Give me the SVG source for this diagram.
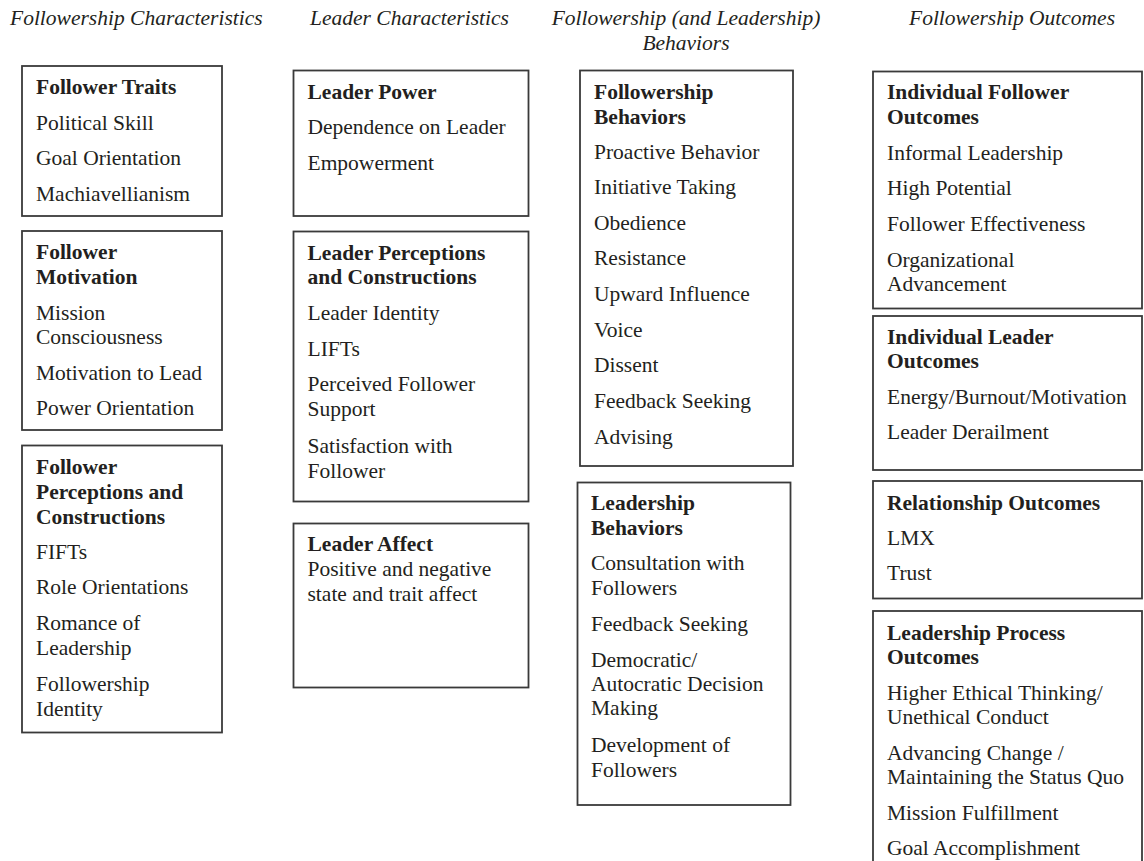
<svg xmlns="http://www.w3.org/2000/svg" width="1144" height="861" viewBox="0 0 1144 861">
<style>
text{font-family:"Liberation Serif","Times New Roman",serif;font-size:21.5px;fill:#231f20}
.h{font-style:italic}
.b{font-weight:bold}
rect{fill:#fff;stroke:#3a3a3a;stroke-width:1.8}
</style>
<rect x="0" y="0" width="1144" height="861" style="stroke:none"/>
<g id="headers">
<text class="h" x="10" y="25">Followership Characteristics</text>
<text class="h" x="310" y="25">Leader Characteristics</text>
<text class="h" x="686" y="25" text-anchor="middle">Followership (and Leadership)</text>
<text class="h" x="686" y="50" text-anchor="middle">Behaviors</text>
<text class="h" x="909" y="25">Followership Outcomes</text>
</g>
<g id="follower-traits">
<rect x="22" y="66" width="200" height="150"/>
<text class="b" x="36" y="94">Follower Traits</text>
<text x="36" y="129.5">Political Skill</text>
<text x="36" y="165">Goal Orientation</text>
<text x="36" y="200.5">Machiavellianism</text>
</g>
<g id="follower-motivation">
<rect x="22" y="231" width="200" height="199"/>
<text class="b" x="36" y="258.5">Follower</text>
<text class="b" x="36" y="283.5">Motivation</text>
<text x="36" y="319.5">Mission</text>
<text x="36" y="344">Consciousness</text>
<text x="36" y="380">Motivation to Lead</text>
<text x="36" y="415">Power Orientation</text>
</g>
<g id="follower-perceptions">
<rect x="22" y="445.5" width="200" height="287"/>
<text class="b" x="36" y="473.5">Follower</text>
<text class="b" x="36" y="498.5">Perceptions and</text>
<text class="b" x="36" y="523.5">Constructions</text>
<text x="36" y="559">FIFTs</text>
<text x="36" y="594">Role Orientations</text>
<text x="36" y="630">Romance of</text>
<text x="36" y="655">Leadership</text>
<text x="36" y="691">Followership</text>
<text x="36" y="716">Identity</text>
</g>
<g id="leader-power">
<rect x="293.5" y="70.5" width="235" height="145.5"/>
<text class="b" x="307.5" y="98.5">Leader Power</text>
<text x="307.5" y="133.5">Dependence on Leader</text>
<text x="307.5" y="169.5">Empowerment</text>
</g>
<g id="leader-perceptions">
<rect x="293.5" y="231.5" width="235" height="270"/>
<text class="b" x="307.5" y="259.5">Leader Perceptions</text>
<text class="b" x="307.5" y="284">and Constructions</text>
<text x="307.5" y="320">Leader Identity</text>
<text x="307.5" y="356">LIFTs</text>
<text x="307.5" y="390.5">Perceived Follower</text>
<text x="307.5" y="415.5">Support</text>
<text x="307.5" y="452.5">Satisfaction with</text>
<text x="307.5" y="477.5">Follower</text>
</g>
<g id="leader-affect">
<rect x="293.5" y="523.5" width="235" height="164"/>
<text class="b" x="307.5" y="550.5">Leader Affect</text>
<text x="307.5" y="575.5">Positive and negative</text>
<text x="307.5" y="600.5">state and trait affect</text>
</g>
<g id="followership-behaviors">
<rect x="580" y="70.5" width="213" height="395.5"/>
<text class="b" x="594" y="98.5">Followership</text>
<text class="b" x="594" y="123.5">Behaviors</text>
<text x="594" y="158.5">Proactive Behavior</text>
<text x="594" y="193.5">Initiative Taking</text>
<text x="594" y="230">Obedience</text>
<text x="594" y="265">Resistance</text>
<text x="594" y="300.5">Upward Influence</text>
<text x="594" y="336.5">Voice</text>
<text x="594" y="371.5">Dissent</text>
<text x="594" y="408">Feedback Seeking</text>
<text x="594" y="443.5">Advising</text>
</g>
<g id="leadership-behaviors">
<rect x="577.5" y="482.5" width="213" height="322.5"/>
<text class="b" x="591" y="510">Leadership</text>
<text class="b" x="591" y="535">Behaviors</text>
<text x="591" y="570">Consultation with</text>
<text x="591" y="595">Followers</text>
<text x="591" y="631">Feedback Seeking</text>
<text x="591" y="666.5">Democratic/</text>
<text x="591" y="691">Autocratic Decision</text>
<text x="591" y="715">Making</text>
<text x="591" y="751.5">Development of</text>
<text x="591" y="776.5">Followers</text>
</g>
<g id="individual-follower-outcomes">
<rect x="873" y="71.5" width="269" height="237"/>
<text class="b" x="887" y="99">Individual Follower</text>
<text class="b" x="887" y="124">Outcomes</text>
<text x="887" y="160">Informal Leadership</text>
<text x="887" y="195">High Potential</text>
<text x="887" y="230.5">Follower Effectiveness</text>
<text x="887" y="266.5">Organizational</text>
<text x="887" y="291">Advancement</text>
</g>
<g id="individual-leader-outcomes">
<rect x="873" y="316" width="269" height="154"/>
<text class="b" x="887" y="343.5">Individual Leader</text>
<text class="b" x="887" y="368">Outcomes</text>
<text x="887" y="403.5">Energy/Burnout/Motivation</text>
<text x="887" y="438.5">Leader Derailment</text>
</g>
<g id="relationship-outcomes">
<rect x="873" y="481" width="269" height="117.5"/>
<text class="b" x="887" y="510">Relationship Outcomes</text>
<text x="887" y="544.5">LMX</text>
<text x="887" y="580">Trust</text>
</g>
<g id="leadership-process-outcomes">
<rect x="873" y="611" width="269" height="260"/>
<text class="b" x="887" y="639.5">Leadership Process</text>
<text class="b" x="887" y="663.5">Outcomes</text>
<text x="887" y="699.5">Higher Ethical Thinking/</text>
<text x="887" y="724">Unethical Conduct</text>
<text x="887" y="760">Advancing Change /</text>
<text x="887" y="784">Maintaining the Status Quo</text>
<text x="887" y="820">Mission Fulfillment</text>
<text x="887" y="855">Goal Accomplishment</text>
</g>
<g id="connectors"></g>
</svg>
